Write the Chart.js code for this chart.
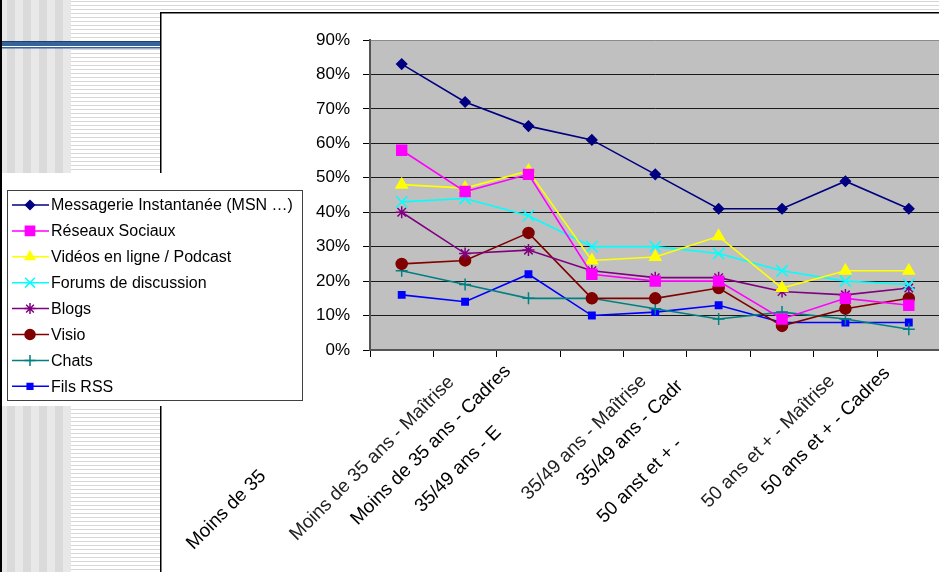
<!DOCTYPE html>
<html>
<head>
<meta charset="utf-8">
<script src="https://cdn.jsdelivr.net/npm/chart.js@4/dist/chart.umd.min.js"></script>
<style>
  html, body { margin: 0; padding: 0; overflow: hidden; background: #fff; }
  #wrap { position: absolute; left: 0; top: 0; width: 950px; height: 572px; }
</style>
</head>
<body>
<div id="wrap"><canvas id="c" width="950" height="572"></canvas></div>
<script>
// Categories (age group / profile), as printed under the axis
const categories = [
  'Moins de 35',
  'Moins de 35 ans - Maîtrise',
  'Moins de 35 ans - Cadres',
  '35/49 ans - E',
  '35/49 ans - Maîtrise',
  '35/49 ans - Cadr',
  '50 anst et + -',
  '50 ans et + - Maîtrise',
  '50 ans et + - Cadres'
];

// Usage rates in percent, one array per tool
const messagerie = [83, 72, 65, 61, 51, 41, 41, 49, 41];
const reseaux    = [58, 46, 51, 22, 20, 20, 9, 15, 13];
const videos     = [48, 47, 52, 26, 27, 33, 18, 23, 23];
const forums     = [43, 44, 39, 30, 30, 28, 23, 20, 19];
const blogs      = [40, 28, 29, 23, 21, 21, 17, 16, 18];
const visio      = [25, 26, 34, 15, 15, 18, 7, 12, 15];
const chats      = [23, 19, 15, 15, 12, 9, 11, 9, 6];
const filsRss    = [16, 14, 22, 10, 11, 13, 8, 8, 8];

const seriesNames = [
  'Messagerie Instantanée (MSN …)',
  'Réseaux Sociaux',
  'Vidéos en ligne / Podcast',
  'Forums de discussion',
  'Blogs',
  'Visio',
  'Chats',
  'Fils RSS'
];

// Y axis: 0% .. 90% by 10
const yMin = 0, yMax = 90, yStep = 10;

// Where each rotated category label ends (offset from its category centre, baseline y)
const labelAnchors = [
  [-135, 477], [-10, 383], [-17, 372], [-90, 433], [-8, 382],
  [-35, 387], [-99, 445], [-10, 382], [-18, 374]
];
// The "Maîtrise" labels print a little greyer
const labelColors = ['#000', '#222', '#000', '#000', '#222', '#000', '#000', '#222', '#000'];

const FONT = '"Liberation Sans", Arial, sans-serif';

const styles = [
  { color: '#000080', point: 'rectRot',  r: 5,   lr: 4.5 },
  { color: '#ff00ff', point: 'rect',     r: 7,   lr: 6.5 },
  { color: '#ffff00', point: 'triangle', r: 6.5, lr: 5.5 },
  { color: '#00ffff', point: 'crossRot', r: 8,   lr: 7 },
  { color: '#800080', point: 'star',     r: 6,   lr: 5.5 },
  { color: '#800000', point: 'circle',   r: 5.5, lr: 5 },
  { color: '#008080', point: 'cross',    r: 6,   lr: 5.5 },
  { color: '#0000ff', point: 'rect',     r: 4.5, lr: 4 }
];
const allSeries = [messagerie, reseaux, videos, forums, blogs, visio, chats, filsRss];

const datasets = allSeries.map((values, i) => ({
  label: seriesNames[i],
  data: values,
  borderColor: styles[i].color,
  backgroundColor: styles[i].color,
  pointBackgroundColor: styles[i].color,
  pointBorderColor: styles[i].color,
  pointStyle: styles[i].point,
  pointRadius: styles[i].r,
  pointHoverRadius: styles[i].r,
  pointBorderWidth: 1.5,
  borderWidth: 1.6,
  tension: 0,
  fill: false
}));

// Slide decoration behind the chart frame, and the grey plot area
const backdrop = {
  id: 'backdrop',
  beforeDraw(chart) {
    const ctx = chart.ctx;
    const W = chart.width, H = chart.height;
    ctx.save();
    ctx.fillStyle = '#ffffff';
    ctx.fillRect(0, 0, W, H);
    // horizontal hairline pattern
    ctx.fillStyle = '#d6d6d6';
    for (let y = 1; y < H; y += 4) ctx.fillRect(71, y, W - 71, 1);
    // vertical grey stripes on the left edge
    ctx.fillStyle = '#e8e8e8';
    ctx.fillRect(2, 0, 69, H);
    ctx.fillStyle = '#dadada';
    for (let x = 7; x < 71; x += 16) ctx.fillRect(x, 0, 8, H);
    ctx.fillStyle = '#000000';
    ctx.fillRect(0, 0, 2, H);
    // blue double rule
    ctx.fillStyle = '#1f3f6f';
    ctx.fillRect(2, 41, 158, 1);
    ctx.fillStyle = '#36639c';
    ctx.fillRect(2, 42, 158, 4);
    ctx.fillStyle = '#ffffff';
    ctx.fillRect(2, 46, 158, 1);
    ctx.fillStyle = '#36639c';
    ctx.fillRect(2, 47, 158, 1.5);
    // chart frame
    ctx.fillStyle = '#ffffff';
    ctx.fillRect(160, 12, W - 160, H - 12);
    ctx.strokeStyle = '#000000';
    ctx.lineWidth = 1.5;
    ctx.beginPath();
    ctx.moveTo(160.75, H);
    ctx.lineTo(160.75, 12.75);
    ctx.lineTo(W, 12.75);
    ctx.stroke();
    // plot area
    const a = chart.chartArea;
    ctx.fillStyle = '#c0c0c0';
    ctx.fillRect(a.left, a.top, a.right - a.left, a.bottom - a.top);
    ctx.restore();
  }
};

// Rotated category labels and the boxed legend
const annotations = {
  id: 'annotations',
  afterDraw(chart) {
    const ctx = chart.ctx;
    const xs = chart.scales.x;
    ctx.save();
    ctx.font = '19px ' + FONT;
    ctx.textAlign = 'right';
    ctx.textBaseline = 'alphabetic';
    categories.forEach((label, i) => {
      const cx = xs.getPixelForValue(i);
      const [dx, y] = labelAnchors[i];
      ctx.save();
      ctx.fillStyle = labelColors[i];
      ctx.translate(cx + dx, y);
      ctx.rotate(-Math.PI / 4);
      ctx.fillText(label, 0, 0);
      ctx.restore();
    });
    ctx.restore();

    // legend box
    ctx.save();
    ctx.fillStyle = '#ffffff';
    ctx.fillRect(2, 173, 300, 233);
    ctx.strokeStyle = '#404040';
    ctx.lineWidth = 1;
    ctx.strokeRect(7.5, 190.5, 295, 210);
    ctx.font = '16px ' + FONT;
    ctx.textAlign = 'left';
    ctx.textBaseline = 'middle';
    chart.data.datasets.forEach((ds, i) => {
      const y = 205 + i * 25.9;
      ctx.strokeStyle = ds.borderColor;
      ctx.lineWidth = 1.5;
      ctx.beginPath();
      ctx.moveTo(12, y);
      ctx.lineTo(49, y);
      ctx.stroke();
      ctx.fillStyle = ds.borderColor;
      ctx.lineWidth = 1.5;
      Chart.helpers.drawPoint(ctx, {
        pointStyle: ds.pointStyle, radius: styles[i].lr, rotation: 0, borderWidth: 1.5
      }, 30, y);
      ctx.fillStyle = '#000000';
      ctx.fillText(ds.label, 51, y + 1);
    });
    ctx.restore();
  }
};

new Chart(document.getElementById('c'), {
  type: 'line',
  data: { labels: categories, datasets },
  plugins: [backdrop, annotations],
  options: {
    responsive: false,
    animation: false,
    devicePixelRatio: 1,
    layout: { padding: { left: 0, top: 40, right: 7, bottom: 0 } },
    plugins: { legend: { display: false }, tooltip: { enabled: false } },
    scales: {
      x: {
        type: 'category',
        offset: true,
        afterFit(s) { s.height = 222; },
        grid: {
          offset: true, drawOnChartArea: false, drawTicks: true,
          tickLength: 7, tickColor: '#000000', lineWidth: 1
        },
        border: { display: true, color: '#555555', width: 2 },
        ticks: { display: false }
      },
      y: {
        min: yMin, max: yMax,
        afterFit(s) { s.width = 370; },
        grid: {
          color: ctx => (ctx.tick && ctx.tick.value === yMax ? '#8a8a8a' : '#1a1a1a'),
          lineWidth: 1, drawTicks: true, tickLength: 7, tickColor: '#000000'
        },
        border: { display: true, color: '#555555', width: 2 },
        ticks: {
          stepSize: yStep, padding: 13, color: '#000000',
          font: { family: FONT, size: 17 },
          callback: v => v + '%'
        }
      }
    }
  }
});
</script>
</body>
</html>
